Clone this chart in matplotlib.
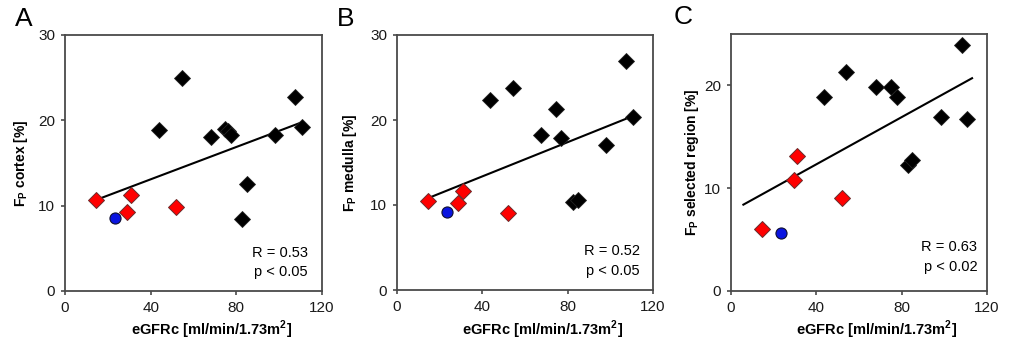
import matplotlib
matplotlib.use("Agg")
import matplotlib.pyplot as plt

plt.rcParams['font.family'] = ['Liberation Sans', 'DejaVu Sans']
plt.rcParams['mathtext.fontset'] = 'custom'
plt.rcParams['mathtext.rm'] = 'Liberation Sans'
plt.rcParams['mathtext.bf'] = 'Liberation Sans:bold'

# ---------------- data ----------------
# Panel A: Fp cortex
a_black_x = [43.9, 54.8, 68.1, 74.5, 76.0, 77.6, 84.9, 82.6, 98.1, 107.6, 110.6]
a_black_y = [18.9, 25.0, 18.1, 19.0, 18.7, 18.3, 12.5, 8.4, 18.3, 22.7, 19.2]
a_red_x = [14.3, 28.8, 30.8, 51.7]
a_red_y = [10.7, 9.3, 11.2, 9.8]
a_blue_x = [23.4]
a_blue_y = [8.5]
a_fit_x = [14.8, 109.8]
a_fit_y = [10.7, 19.7]

# Panel B: Fp medulla
b_black_x = [43.8, 54.6, 67.7, 74.7, 77.1, 82.5, 84.8, 98.2, 107.5, 110.6]
b_black_y = [22.4, 23.8, 18.2, 21.3, 17.9, 10.3, 10.6, 17.1, 27.0, 20.3]
b_red_x = [14.5, 28.8, 30.9, 52.0]
b_red_y = [10.5, 10.2, 11.6, 9.1]
b_blue_x = [23.3]
b_blue_y = [9.2]
b_fit_x = [14.5, 109.9]
b_fit_y = [10.8, 20.4]

# Panel C: Fp selected region
c_black_x = [43.7, 54.0, 68.1, 75.0, 77.8, 83.2, 84.8, 98.6, 110.7, 108.3]
c_black_y = [18.9, 21.3, 19.8, 19.8, 18.9, 12.3, 12.7, 16.9, 16.7, 23.95]
c_red_x = [14.4, 29.4, 31.1, 52.0]
c_red_y = [6.0, 10.75, 13.1, 9.0]
c_blue_x = [23.5]
c_blue_y = [5.6]
c_fit_x = [5.8, 113.0]
c_fit_y = [8.4, 20.7]

xticks = [0, 40, 80, 120]
ab_yticks = [0, 10, 20, 30]
c_yticks = [0, 10, 20]

panels = [
    dict(letter='A', ylabel=r'$\mathbf{F_P}$ cortex [%]',
         bx=a_black_x, by=a_black_y, rx=a_red_x, ry=a_red_y,
         ux=a_blue_x, uy=a_blue_y, fx=a_fit_x, fy=a_fit_y,
         ymax=30, yticks=ab_yticks, r='R = 0.53', p='p < 0.05'),
    dict(letter='B', ylabel=r'$\mathbf{F_P}$ medulla [%]',
         bx=b_black_x, by=b_black_y, rx=b_red_x, ry=b_red_y,
         ux=b_blue_x, uy=b_blue_y, fx=b_fit_x, fy=b_fit_y,
         ymax=30, yticks=ab_yticks, r='R = 0.52', p='p < 0.05'),
    dict(letter='C', ylabel=r'$\mathbf{F_P}$ selected region [%]',
         bx=c_black_x, by=c_black_y, rx=c_red_x, ry=c_red_y,
         ux=c_blue_x, uy=c_blue_y, fx=c_fit_x, fy=c_fit_y,
         ymax=25, yticks=c_yticks, r='R = 0.63', p='p < 0.02'),
]

W, H = 1009, 341
fig = plt.figure(figsize=(W / 100, H / 100), dpi=100)

# axes boxes in pixels: left, right, top, bottom
boxes = [(65, 322, 35, 291), (397, 653, 35, 290), (731, 987, 34, 291)]
letter_pos = [(15, 19.5), (337, 19.5), (674, 17.5)]
ylabel_x = [21.5, 350, 692]
xlabel_shift = 18
xlabel_y = 330
txt_pos = [(0.946, 0.147, 0.073), (0.948, 0.153, 0.075), (0.962, 0.170, 0.092)]

spine_col = '#4a4a4a'
for i, (pn, box) in enumerate(zip(panels, boxes)):
    l, r, t, b = box
    w, h = r - l, b - t
    ax = fig.add_axes([l / W, 1 - b / H, w / W, h / H])
    ax.plot(pn['fx'], pn['fy'], color='black', lw=1.5, zorder=2)
    ax.plot(pn['bx'], pn['by'], linestyle='none', marker='D', markersize=8,
            markerfacecolor='black', markeredgecolor='#222222', markeredgewidth=0.6, zorder=3)
    ax.plot(pn['rx'], pn['ry'], linestyle='none', marker='D', markersize=8,
            markerfacecolor='#ff0000', markeredgecolor='#6a2a2a', markeredgewidth=0.7, zorder=3)
    ax.plot(pn['ux'], pn['uy'], linestyle='none', marker='o', markersize=8,
            markerfacecolor='#0a14e0', markeredgecolor='#101030', markeredgewidth=0.8, zorder=3)
    ax.set_xlim(0, 120)
    ax.set_ylim(0, pn['ymax'])
    ax.set_xticks(xticks)
    ax.set_yticks(pn['yticks'])
    ax.tick_params(direction='out', length=3, width=1.2, color=spine_col,
                   labelsize=11, labelcolor='#1a1a1a', pad=4)
    for s in ax.spines.values():
        s.set_color(spine_col)
        s.set_linewidth(1.3)
    ax.set_xlabel('eGFRc [ml/min/1.73m$^\\mathbf{2}$]', fontsize=10.5, fontweight='bold')
    ax.xaxis.set_label_coords(0.5 + xlabel_shift / w, -(xlabel_y - b) / h)
    ax.xaxis.label.set_va('center')
    ax.set_ylabel(pn['ylabel'], fontsize=10, fontweight='bold')
    ax.yaxis.set_label_coords(-(l - ylabel_x[i]) / w, 0.5)
    ax.yaxis.label.set_va('center')
    tx, ty1, ty2 = txt_pos[i]
    ax.text(tx, ty1, pn['r'], transform=ax.transAxes, ha='right', va='center', fontsize=10.5)
    ax.text(tx, ty2, pn['p'], transform=ax.transAxes, ha='right', va='center', fontsize=10.5)
    lx, ly = letter_pos[i]
    fig.text(lx / W, 1 - ly / H, pn['letter'], fontsize=19, ha='left', va='center')

fig.savefig('out.png', dpi=100)
